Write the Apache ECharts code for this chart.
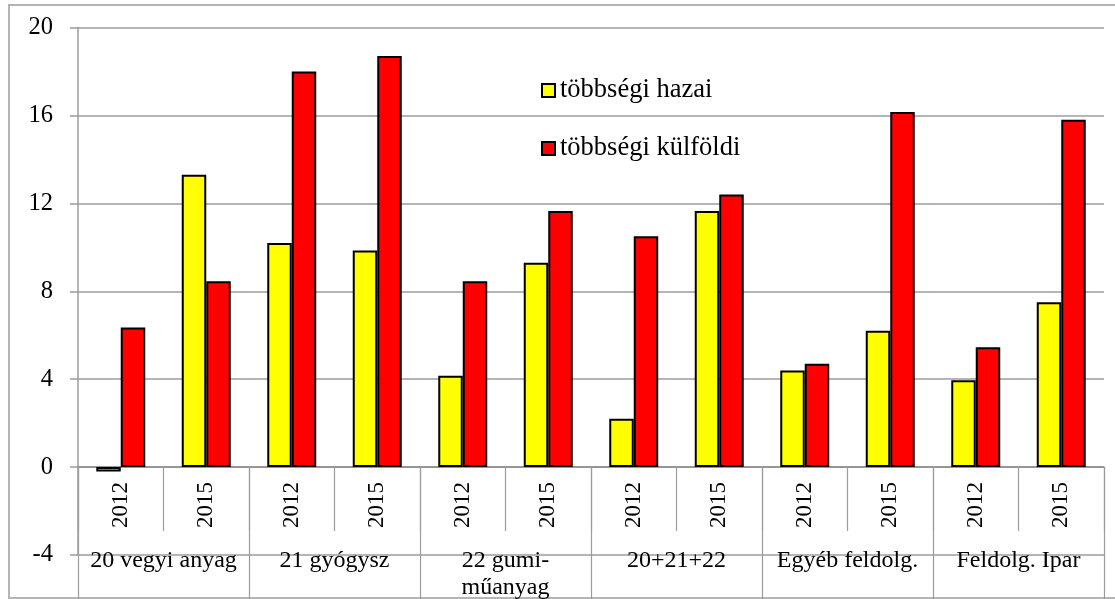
<!DOCTYPE html>
<html>
<head>
<meta charset="utf-8">
<script src="https://cdn.jsdelivr.net/npm/echarts@6/dist/echarts.min.js"></script>
<style>
  html, body { margin: 0; padding: 0; background: #fff; }
  #wrap { position: relative; width: 1115px; height: 599px; overflow: hidden; }
  #frame { position: absolute; left: 8px; top: 4px; width: 1130px; height: 595px;
           border: 2px solid #b4b4b4; box-sizing: border-box; }
  #chart { position: absolute; left: 0; top: 0; width: 1115px; height: 599px; }
</style>
</head>
<body>
<div id="wrap">
  <div id="frame"></div>
  <div id="chart"></div>
</div>
<script>
// Year of each bar pair, grouped by industry
const years = ['2012', '2015', '2012', '2015', '2012', '2015', '2012', '2015', '2012', '2015', '2012', '2015'];
const groups = ['20 vegyi anyag', '21 gyógysz', '22 gumi-\nműanyag', '20+21+22', 'Egyéb feldolg.', 'Feldolg. Ipar'];
const seriesNames = ['többségi hazai', 'többségi külföldi'];
const domestic = [-0.2, 13.3, 10.2, 9.85, 4.15, 9.3, 2.2, 11.65, 4.4, 6.2, 3.95, 7.5];
const foreign = [6.35, 8.45, 18.0, 18.7, 8.45, 11.65, 10.5, 12.4, 4.7, 16.15, 5.45, 15.8];
const yTicks = { min: -4, max: 20, interval: 4 };

const font = '"Liberation Serif", "Times New Roman", serif';
const gridColor = '#9c9c9c';

// Plot box; the category axes sit on the zero line, above the plot's lower edge
const plot = { left: 78, right: 11, top: 27.5, bottom: 44 };
const plotHeight = 599 - plot.top - plot.bottom;
const zeroLift = -plotHeight * (0 - yTicks.min) / (yTicks.max - yTicks.min);

const chart = echarts.init(document.getElementById('chart'), null, { renderer: 'canvas' });
chart.setOption({
  backgroundColor: 'transparent',
  animation: false,
  grid: Object.assign({ containLabel: false, outerBoundsMode: 'none' }, plot),
  legend: {
    orient: 'vertical',
    left: 536,
    top: 72,
    itemGap: 31,
    itemWidth: 13,
    itemHeight: 13,
    icon: 'rect',
    textStyle: { fontFamily: font, fontSize: 26.5, color: '#000' },
    data: seriesNames
  },
  xAxis: [
    {
      type: 'category',
      data: years,
      position: 'bottom',
      offset: zeroLift,
      axisLine: { show: true, onZero: false, lineStyle: { color: '#8c8c8c', width: 1.5 } },
      axisTick: { show: true, length: 64, alignWithLabel: false, lineStyle: { color: gridColor, width: 1.2 } },
      axisLabel: { rotate: 90, fontFamily: font, fontSize: 23, color: '#000', margin: 15, interval: 0 },
      splitLine: { show: false }
    },
    {
      type: 'category',
      data: groups,
      position: 'bottom',
      offset: zeroLift,
      axisLine: { show: false, onZero: false },
      axisTick: { show: true, length: 132, alignWithLabel: false, lineStyle: { color: gridColor, width: 1.2 } },
      axisLabel: { fontFamily: font, fontSize: 24, color: '#000', margin: 80, lineHeight: 27, interval: 0 },
      splitLine: { show: false }
    }
  ],
  yAxis: {
    type: 'value',
    min: yTicks.min,
    max: yTicks.max,
    interval: yTicks.interval,
    axisLine: { show: true, lineStyle: { color: gridColor, width: 1.5 } },
    axisTick: { show: true, length: 8, lineStyle: { color: gridColor, width: 1.5 } },
    axisLabel: { fontFamily: font, fontSize: 24.5, color: '#000', margin: 25 },
    splitLine: { show: true, lineStyle: { color: gridColor, width: 1.5 } }
  },
  series: [
    {
      name: seriesNames[0],
      type: 'bar',
      xAxisIndex: 0,
      data: domestic,
      barGap: '0%',
      barCategoryGap: '42.7%',
      itemStyle: { color: '#ffff00', borderColor: '#000', borderWidth: 2 }
    },
    {
      name: seriesNames[1],
      type: 'bar',
      xAxisIndex: 0,
      data: foreign,
      barGap: '0%',
      barCategoryGap: '42.7%',
      itemStyle: { color: '#ff0000', borderColor: '#000', borderWidth: 2 }
    }
  ]
});
</script>
</body>
</html>
